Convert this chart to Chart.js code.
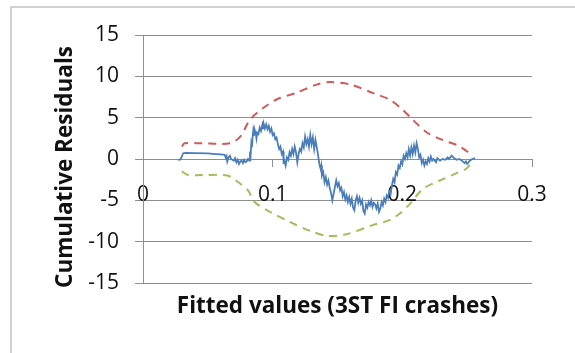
<!DOCTYPE html>
<html>
<head>
<meta charset="utf-8">
<script src="https://cdn.jsdelivr.net/npm/chart.js@4/dist/chart.umd.min.js"></script>
<style>
  html, body { margin: 0; padding: 0; background: #fff; }
  #wrap { width: 575px; height: 353px; position: relative; }
</style>
</head>
<body>
<div id="wrap"><canvas id="c" width="575" height="353"></canvas></div>
<script>
// Axis ticks
const xTicks = [0, 0.1, 0.2, 0.3];
const yTicks = [-15, -10, -5, 0, 5, 10, 15];

// Cumulative residuals against fitted values
const cureX = [
  0.027, 0.029, 0.031, 0.033, 0.040, 0.050, 0.056, 0.060, 0.063, 0.064, 0.0645, 0.065, 0.066, 0.067, 0.068, 0.070,
  0.071, 0.072, 0.073, 0.074, 0.075, 0.076, 0.077, 0.078, 0.079, 0.080, 0.081, 0.082, 0.0825, 0.083, 0.0835, 0.084,
  0.0845, 0.085, 0.0855, 0.086, 0.087, 0.0875, 0.088, 0.089, 0.090, 0.091, 0.092, 0.0925, 0.093, 0.094, 0.095, 0.096,
  0.097, 0.098, 0.099, 0.100, 0.101, 0.102, 0.103, 0.104, 0.105, 0.106, 0.107, 0.108, 0.1085, 0.109, 0.110, 0.111,
  0.112, 0.113, 0.114, 0.115, 0.116, 0.117, 0.118, 0.119, 0.120, 0.121, 0.122, 0.123, 0.124, 0.125, 0.126, 0.127,
  0.128, 0.129, 0.130, 0.131, 0.132, 0.133, 0.134, 0.135, 0.136, 0.137, 0.1375, 0.138, 0.139, 0.140, 0.141, 0.142,
  0.143, 0.144, 0.145, 0.146, 0.147, 0.148, 0.149, 0.150, 0.151, 0.152, 0.153, 0.154, 0.155, 0.156, 0.157, 0.158,
  0.159, 0.160, 0.161, 0.162, 0.163, 0.164, 0.165, 0.166, 0.167, 0.168, 0.169, 0.170, 0.171, 0.172, 0.173, 0.174,
  0.175, 0.176, 0.177, 0.178, 0.179, 0.180, 0.181, 0.182, 0.183, 0.184, 0.185, 0.186, 0.187, 0.188, 0.189, 0.190,
  0.191, 0.192, 0.193, 0.194, 0.195, 0.196, 0.197, 0.198, 0.199, 0.200, 0.201, 0.202, 0.203, 0.204, 0.205, 0.206,
  0.207, 0.208, 0.209, 0.210, 0.211, 0.212, 0.213, 0.214, 0.215, 0.216, 0.217, 0.218, 0.219, 0.220, 0.221, 0.222,
  0.223, 0.224, 0.226, 0.227, 0.229, 0.231, 0.233, 0.235, 0.236, 0.238, 0.240, 0.242, 0.244, 0.246, 0.248, 0.249,
  0.250, 0.252, 0.254, 0.256
];
const cureY = [
  -0.1, -0.05, 0.7, 0.75, 0.72, 0.68, 0.6, 0.55, 0.5, 0.1, 0.3, -0.3, 0.2, 0.4, 0.0, -0.2,
  0.1, -0.4, -0.1, -0.6, -0.3, -0.2, -0.5, -0.1, -0.4, -0.3, 0.0, -0.2, 0.9, 0.5, 1.8, 1.4,
  2.6, 3.4, 2.8, 3.6, 3.0, 2.5, 3.2, 3.0, 3.8, 3.4, 4.1, 3.6, 4.3, 3.7, 4.2, 3.6,
  4.0, 3.3, 3.7, 2.9, 3.1, 2.4, 2.6, 1.8, 1.2, 1.5, 0.6, 0.9, -0.6, -0.2, -0.8, 0.2,
  -0.1, 0.8, 0.4, 1.2, 0.6, 1.5, 0.8, -0.4, 0.6, 1.2, 0.9, 1.9, 1.4, 2.7, 1.8, 2.4,
  1.5, 2.9, 1.8, 2.6, 1.2, 2.3, 1.4, 0.5, -0.6, -1.2, -0.8, -2.0, -1.6, -2.8, -2.2, -3.1,
  -2.6, -3.5, -4.1, -5.0, -4.2, -3.4, -2.6, -3.3, -2.9, -3.8, -3.5, -4.5, -4.0, -4.9, -4.4, -5.2,
  -4.6, -5.4, -4.8, -5.9, -6.2, -5.0, -4.5, -5.3, -4.7, -5.4, -5.0, -6.3, -6.6, -5.5, -5.9, -5.2,
  -5.6, -5.0, -5.8, -5.3, -5.5, -6.0, -5.4, -6.4, -6.0, -5.2, -5.6, -4.8, -5.2, -4.4, -4.7, -3.9,
  -4.2, -3.2, -2.4, -2.8, -1.6, -1.9, -0.8, -1.1, -0.3, -0.6, 0.4, 0.0, 0.7, 0.2, 1.2, 0.4,
  1.4, 0.6, 1.6, 0.8, 1.9, 1.2, 0.2, 0.5, -0.5, -0.1, -0.8, -0.3, -0.6, 0.1, -0.3, 0.3,
  -0.2, 0.0, -0.4, 0.1, -0.2, 0.0, -0.1, 0.2, 0.0, 0.4, 0.1, -0.1, 0.0, -0.2, -0.5, -0.3,
  -0.6, -0.2, 0.0, 0.1
];

// Upper bound (+2 sigma*)
const upperX = [0.030, 0.032, 0.045, 0.067, 0.075, 0.0825, 0.093, 0.103, 0.118, 0.134, 0.144, 0.160, 0.177, 0.190, 0.200, 0.208, 0.219, 0.231, 0.242, 0.250, 0.254];
const upperY = [1.5, 1.9, 1.9, 1.9, 2.7, 4.75, 6.2, 7.2, 8.0, 9.0, 9.3, 9.0, 8.0, 7.2, 6.0, 4.75, 3.2, 2.3, 1.7, 0.9, 0.3];

// Lower bound (-2 sigma*)
const lowerX = [0.030, 0.034, 0.045, 0.065, 0.075, 0.081, 0.086, 0.098, 0.113, 0.129, 0.142, 0.157, 0.177, 0.190, 0.198, 0.206, 0.216, 0.229, 0.242, 0.250, 0.254];
const lowerY = [-1.5, -1.9, -1.95, -2.0, -3.0, -3.8, -5.2, -6.4, -7.6, -8.7, -9.3, -9.1, -8.0, -7.4, -6.6, -5.4, -3.6, -2.6, -1.7, -1.1, -0.1];

const toPoints = (xs, ys) => xs.map((x, i) => ({ x: x, y: ys[i] }));

const FONT = '"Open Sans", Lato, sans-serif';
const TEXT = '#111111';
const GRID = '#8e8e8e';

const frame = {
  id: 'frame',
  beforeDraw(chart) {
    const ctx = chart.ctx;
    ctx.save();
    ctx.fillStyle = '#ffffff';
    ctx.fillRect(0, 0, chart.width, chart.height);
    ctx.strokeStyle = '#c4c4c4';
    ctx.lineWidth = 1.5;
    ctx.strokeRect(11, 7, 700, 500);
    ctx.restore();
  },
  afterDraw(chart) {
    const ctx = chart.ctx;
    const a = chart.chartArea;
    ctx.save();
    ctx.fillStyle = TEXT;
    ctx.font = 'bold 22.5px ' + FONT;
    ctx.textAlign = 'center';
    ctx.textBaseline = 'alphabetic';
    ctx.fillText('Fitted values (3ST FI crashes)', (a.left + a.right) / 2, 313);
    ctx.translate(72, 167);
    ctx.rotate(-Math.PI / 2);
    ctx.fillText('Cumulative Residuals', 0, 0);
    ctx.restore();
  }
};

new Chart(document.getElementById('c'), {
  type: 'scatter',
  data: {
    datasets: [
      {
        label: 'CURE',
        data: toPoints(cureX, cureY),
        showLine: true,
        borderColor: '#4a7ebb',
        borderWidth: 1.8,
        pointRadius: 0,
        tension: 0
      },
      {
        label: 'Upper',
        data: toPoints(upperX, upperY),
        showLine: true,
        borderColor: '#d05a57',
        borderWidth: 2,
        borderDash: [8, 6],
        pointRadius: 0,
        tension: 0.3
      },
      {
        label: 'Lower',
        data: toPoints(lowerX, lowerY),
        showLine: true,
        borderColor: '#9dc05a',
        borderWidth: 2,
        borderDash: [8, 6],
        pointRadius: 0,
        tension: 0.3
      }
    ]
  },
  options: {
    responsive: false,
    animation: false,
    events: [],
    layout: { padding: { left: 0, top: 35, right: 43, bottom: 70 } },
    plugins: { legend: { display: false }, tooltip: { enabled: false } },
    scales: {
      x: {
        type: 'linear',
        position: { y: 0 },
        min: 0,
        max: 0.3,
        afterBuildTicks: (s) => { s.ticks = xTicks.map(v => ({ value: v })); },
        ticks: {
          font: { family: FONT, size: 21 },
          color: TEXT,
          padding: 16,
          maxRotation: 0,
          callback: (v) => String(v)
        },
        grid: { drawOnChartArea: false, drawTicks: true, tickLength: 7, color: GRID, lineWidth: 1 },
        border: { display: true, color: GRID, width: 1 }
      },
      y: {
        type: 'linear',
        min: -15,
        max: 15,
        afterBuildTicks: (s) => { s.ticks = yTicks.map(v => ({ value: v })); },
        afterFit: (s) => { s.width = 143; },
        ticks: {
          font: { family: FONT, size: 21 },
          color: TEXT,
          padding: 16,
          callback: (v) => String(v)
        },
        grid: { color: GRID, lineWidth: 1, tickLength: 8, drawTicks: true },
        border: { display: true, color: GRID, width: 1 }
      }
    }
  },
  plugins: [frame]
});
</script>
</body>
</html>
